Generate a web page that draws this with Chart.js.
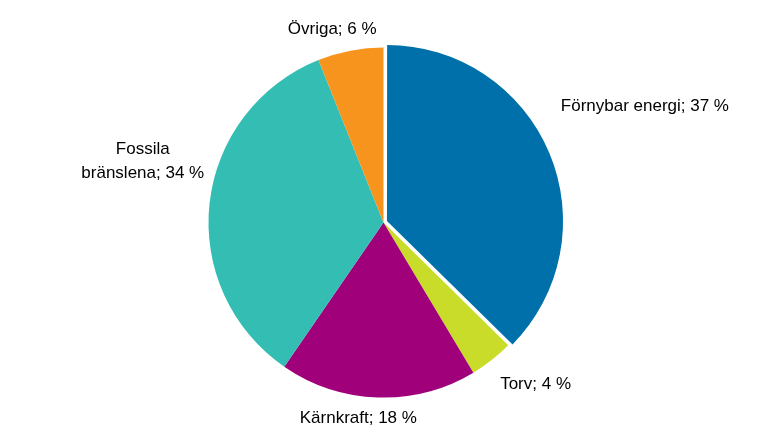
<!DOCTYPE html>
<html><head><meta charset="utf-8">
<script src="https://cdn.jsdelivr.net/npm/chart.js@4/dist/chart.umd.min.js"></script>
<style>html,body{margin:0;padding:0;background:#fff}#w{width:767px;height:447px}</style>
</head><body><div id="w"><canvas id="c"></canvas></div>
<script>
const categories = ["Förnybar energi", "Torv", "Kärnkraft", "Fossila\nbränslena", "Övriga"];
const values = [37, 4, 18, 34, 6];
const colors = ["#0070aa", "#c9dc2a", "#a1007b", "#33bdb3", "#f7941d"];
const labelDist = [1.55, 1.27, 1.13, 1.42, 1.14];
const labelAngleAdj = [-1.4, -5, 5.5, 8, -4];
const labelPlugin = {
  id: 'lbl',
  afterDatasetsDraw(chart) {
    const ctx = chart.ctx;
    const meta = chart.getDatasetMeta(0);
    ctx.save();
    ctx.font = '17px "Liberation Sans", Arial, sans-serif';
    ctx.fillStyle = '#000';
    ctx.textAlign = 'center';
    ctx.textBaseline = 'middle';
    meta.data.forEach((arc, i) => {
      const p = arc.getProps(['x','y','startAngle','endAngle','outerRadius'], true);
      const a = (p.startAngle + p.endAngle) / 2 + labelAngleAdj[i] * Math.PI / 180;
      let cx = p.x, cy = p.y;
      const off = chart.data.datasets[0].offset[i] || 0;
      const mid = (p.startAngle + p.endAngle) / 2;
      cx += Math.cos(mid) * off; cy += Math.sin(mid) * off;
      const r = p.outerRadius * labelDist[i];
      const x = cx + Math.cos(a) * r, y = cy + Math.sin(a) * r;
      const lines = (categories[i] + '; ' + values[i] + ' %').split('\n');
      lines.forEach((ln, k) => ctx.fillText(ln, x, y + (k - (lines.length - 1) / 2) * 24));
    });
    ctx.restore();
  }
};
new Chart(document.getElementById('c'), {
  type: 'pie',
  data: { labels: categories, datasets: [{ data: values, backgroundColor: colors, borderWidth: 0, offset: [15,0,0,0,0], hoverOffset: 0 }] },
  options: {
    responsive: true, maintainAspectRatio: false, animation: false,
    layout: { padding: { top: 40, bottom: 42 } },
    plugins: { legend: { display: false }, tooltip: { enabled: false } }
  },
  plugins: [labelPlugin]
});
</script></body></html>
